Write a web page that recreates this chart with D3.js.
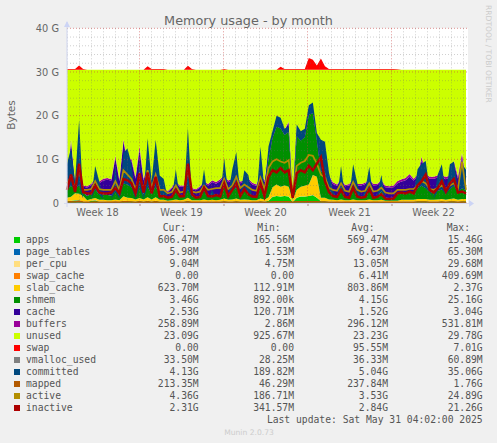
<!DOCTYPE html>
<html>
<head>
<meta charset="utf-8">
<script src="https://d3js.org/d3.v7.min.js"></script>
<style>
  html, body { margin: 0; padding: 0; background: #f0f0f0; }
  svg { display: block; }
  text { fill: #555; }
</style>
</head>
<body>
<svg width="497" height="443"></svg>
<script>
// all values in GiB, one sample every ~8 hours
var apps = [.4,.5,.6,.6,.3,.2,.5,.6,.3,.3,.2,.2,.3,.2,.5,.4,.4,.3,.5,.3,.5,.3,.5,.3,.3,.2,.2,.3,.2,.3,.5,.2,.2,.2,.3,.2,.3,.2,.3,.4,.3,.3,.4,.3,.3,.3,.2,.2,.4,.3,.5,1.4,1.6,1.5,1.6,1.5,.2,1.2,1.5,1.5,1.6,1.8,1.2,.4,.4,.3,.3,.2,.3,.2,.2,.3,.2,.2,.2,.3,.2,.2,.3,.2,.2,.2,.2,.3,.3,.3,.3,.4,.4,.4,.3,.3,.3,.4,.3,.4,.4,.3,.4,.4]
var pageTables = [.01,.01,.01,.01,.01,.01,.01,.01,.01,.01,.01,.01,.01,.01,.01,.01,.01,.01,.01,.01,.01,.01,.01,.01,.01,.01,.01,.01,.01,.01,.01,.01,.01,.01,.01,.01,.01,.01,.01,.01,.01,.01,.01,.01,.01,.01,.01,.01,.01,.01,.01,.01,.01,.01,.01,.01,.01,.01,.01,.01,.01,.01,.01,.01,.01,.01,.01,.01,.01,.01,.01,.01,.01,.01,.01,.01,.01,.01,.01,.01,.01,.01,.01,.01,.01,.01,.01,.01,.01,.01,.01,.01,.01,.01,.01,.01,.01,.01,.01,.01]
var perCpu = [.01,.01,.01,.01,.01,.01,.01,.01,.01,.01,.01,.01,.01,.01,.01,.01,.01,.01,.01,.01,.01,.01,.01,.01,.01,.01,.01,.01,.01,.01,.01,.01,.01,.01,.01,.01,.01,.01,.01,.01,.01,.01,.01,.01,.01,.01,.01,.01,.01,.01,.01,.01,.01,.01,.01,.01,.01,.01,.01,.01,.01,.01,.01,.01,.01,.01,.01,.01,.01,.01,.01,.01,.01,.01,.01,.01,.01,.01,.01,.01,.01,.01,.01,.01,.01,.01,.01,.01,.01,.01,.01,.01,.01,.01,.01,.01,.01,.01,.01,.01]
var swapCache = [.01,.01,.01,.01,.01,.01,.01,.01,.01,.01,.01,.01,.01,.01,.01,.01,.01,.01,.01,.01,.01,.01,.01,.01,.01,.01,.01,.01,.01,.01,.01,.01,.01,.01,.01,.01,.01,.01,.01,.01,.01,.01,.01,.01,.01,.01,.01,.01,.01,.01,.01,.01,.01,.01,.01,.01,.01,.01,.01,.01,.01,.01,.01,.01,.01,.01,.01,.01,.01,.01,.01,.01,.01,.01,.01,.01,.01,.01,.01,.01,.01,.01,.01,.01,.01,.01,.01,.01,.01,.01,.01,.01,.01,.01,.01,.01,.01,.01,.01,.01]
var slabCache = [.8,.9,1.6,1.5,1.3,.4,.4,.5,.4,.4,.4,.4,.5,.4,1,.8,.7,.5,.6,.5,.8,.5,.8,.4,.4,.3,.4,.5,.4,.4,.7,.4,.4,.4,.5,.4,.4,.4,.4,.6,.4,.5,.6,.4,.5,.4,.4,.4,.6,.4,.8,2.2,2.6,2.2,2.4,2.2,.5,1.8,2.2,2.4,2.6,4.6,4.8,.8,.8,.5,.4,.4,.5,.4,.4,.5,.4,.4,.4,.5,.4,.4,.4,.3,.3,.3,.3,.4,.4,.4,.4,.5,.5,.5,.4,.4,.5,.5,.4,.5,.6,.4,.5,.5]
var shmem = [2,2.5,1,2,.8,1,1.2,2,1.2,1.2,1.2,1.1,1.8,1.2,3,3,2.5,1.5,2.5,1.3,2.5,1.2,2.5,1.2,1,.8,.9,2,.9,1,2,.9,.8,.9,2,1,1.1,1,1.1,3,1.2,2,2.5,1.2,2,1.4,1,.9,2.5,1.2,9,11.3,13.3,13.4,11.6,12.6,.8,12.3,10.6,11.2,16,14.2,8.4,6,6,2.5,1,.9,3,.8,.8,3,1,.8,.9,3,.8,.8,2,.7,.6,.7,1.4,1.6,1.7,1.7,1.6,2.5,3,2.5,1.8,1.6,2,2.2,1.7,2.2,3,1.7,2.5,2]
var cache = [1.5,10.1,1.2,5.5,1.3,1.9,2,2,2.6,3.2,3.5,3.4,7.7,3.2,9.5,5,6,3.2,8.5,3,5,2.6,4.5,1.6,1.4,1.2,1.8,1.8,2.2,2,5.5,1.6,1.5,2,1.8,2.4,3,2.8,3.2,2,2.8,2.4,3,2.6,2,3,2.6,2.4,3,2.8,1.2,1.2,1.6,1.6,1,2,1,1.8,1.4,1.2,1.4,1.2,.8,6.4,5.9,2.6,2.6,2.4,1.6,2.4,2.6,1.6,2.4,2.6,2.8,1.6,2.6,2.7,2.2,2.4,2.4,2.4,2.6,2.6,2.8,3.6,2.8,2.6,5.8,2.8,3,3.2,3,2.8,3,2.8,5,3.2,7,2.4]
var buffers = [.3,.5,.3,.4,.3,.3,.3,.4,.4,.4,.4,.3,.5,.4,.5,.4,.5,.4,.9,.4,.4,.4,.3,.3,.2,.2,.3,.3,.3,.3,.3,.3,.2,.3,.3,.3,.4,.4,.4,.3,.4,.3,.3,.4,.3,.4,.4,.3,.3,.4,.2,.2,.3,.3,.2,.3,.2,.3,.2,.2,.2,.2,.2,.2,.2,.3,.4,.3,.2,.3,.3,.2,.3,.3,.3,.2,.3,.3,.3,.3,.3,.4,.5,.5,.5,.6,.4,.4,.9,.4,.5,.5,.5,.4,.5,.4,.6,.5,1,.3]
var unused = [25.47,15.97,25.77,20.47,26.47,26.67,26.07,24.97,25.57,24.97,24.77,25.07,19.67,25.07,15.97,20.87,20.37,24.57,17.47,24.97,21.27,25.47,21.87,26.67,27.17,27.77,26.87,25.57,26.47,26.47,21.47,27.07,27.37,26.67,25.57,26.17,25.27,25.67,25.07,24.17,25.37,24.97,23.67,25.57,25.37,24.97,25.87,26.27,23.67,25.37,18.77,14.17,11.07,11.47,13.67,11.87,27.77,13.07,14.57,13.97,8.67,8.47,15.07,16.67,17.17,24.27,25.77,26.27,24.87,26.37,26.17,24.87,26.17,26.17,25.87,24.87,26.17,26.07,25.27,26.57,26.67,26.47,25.47,25.07,24.77,23.87,24.97,24.07,19.87,23.87,24.47,24.47,24.17,24.17,24.57,24.17,20.87,24.37,19.07,24.87]
var swap = [.2,.2,.2,1,.2,0,0,0,0,0,0,0,0,0,0,0,0,0,0,0,.8,.2,.2,.2,.2,0,0,0,0,0,.9,.2,0,0,0,0,0,0,0,.2,0,0,0,0,0,0,0,0,0,0,0,0,0,.7,.2,.2,.2,.2,.2,.2,2.7,2.3,1,2.6,.8,.2,.2,.2,.2,.2,.2,.2,.2,.2,.2,.2,.2,.2,.2,.2,.2,.2,.1,0,0,0,0,0,0,0,0,0,0,0,0,0,0,0,0,0]
var vmallocUsed = [.04,.04,.04,.04,.04,.04,.04,.04,.04,.04,.04,.04,.04,.04,.04,.04,.04,.04,.04,.04,.04,.04,.04,.04,.04,.04,.04,.04,.04,.04,.04,.04,.04,.04,.04,.04,.04,.04,.04,.04,.04,.04,.04,.04,.04,.04,.04,.04,.04,.04,.04,.04,.04,.04,.04,.04,.04,.04,.04,.04,.04,.04,.04,.04,.04,.04,.04,.04,.04,.04,.04,.04,.04,.04,.04,.04,.04,.04,.04,.04,.04,.04,.04,.04,.04,.04,.04,.04,.04,.04,.04,.04,.04,.04,.04,.04,.04,.04,.04,.04]
var committed = [9,12.5,5,19,1,1,1,8.5,5,1,1,1,8.5,1,11.5,12.5,9,1,10,1,14.8,5,14.5,6.3,5.5,1,1,7.7,1,1,17.2,1,1,1,7.7,1,3,1,1,10.3,2,7.6,11.7,2,7.5,6.4,1,1,12.9,3,13,16.5,20,19.5,17,17.5,1,18,16.4,17,22.4,23,16,14.5,14,7,3,1,8.5,1,1,8.9,4.7,1,3,8.3,1,2,6.4,1,1,1,1,1,1,1,2,7.8,9,9.6,3,1,6.5,8.9,2,8.9,9.5,3,9,7.6]
var mapped = [.25,.3,.25,.4,.25,.2,.2,.25,.2,.2,.2,.2,.25,.2,.3,.3,.25,.2,.3,.2,.3,.2,.3,.2,.2,.2,.2,.2,.2,.2,.3,.2,.2,.2,.2,.2,.2,.2,.2,.25,.2,.2,.25,.2,.2,.2,.2,.2,.25,.2,.2,.3,.3,.3,.3,.3,.2,.3,.3,.3,.3,.3,.3,.25,.25,.2,.2,.2,.2,.2,.2,.2,.2,.2,.2,.2,.2,.2,.2,.2,.2,.2,.2,.2,.2,.2,.2,.25,.25,.25,.2,.2,.2,.25,.2,.25,.25,.2,.25,.2]
var active = [4.5,6,3.5,8,3,3,3.2,5,3.2,3,3,3,5,3,7.5,6.5,5.5,3.2,6.5,3,7.5,3.5,6.5,3,3,2.2,2.5,4,2.4,2.6,8,2.6,2.4,2.6,4,3,3.2,3.4,3.4,5.5,3.2,4,6,3.4,4.2,3.6,3,2.8,5.8,3.2,8,9.5,10,9.5,9.2,9.8,2.5,8.5,9.2,9.6,11,10.8,9,6.5,5.8,3.5,3,2.8,4.5,2.8,2.6,4.8,3,2.6,2.8,4.5,2.6,2.8,3.5,2.4,2.2,2.2,3,3,3,3.2,3.2,4,5,4.5,3.2,3,3.4,4,3.2,4,4.5,3.2,9.5,3]
var inactive = [3,6.5,2.5,9,2.5,2.2,2.2,4,2.4,2.2,2.2,2.4,3.5,2.2,5.5,5.2,4.5,2.2,6.8,2.4,7,2.2,6,1.5,1.6,1.2,1.4,3,1.5,1.6,9,2,1.2,1.4,3.5,1.6,1.5,1.8,1.5,4.5,1.6,3,4.5,1.6,3.2,2,1.5,1.4,4.5,1.6,6,7.5,7,8,7,7.5,1.2,6.8,7.5,7,8.5,7.5,9,10.5,5,2.5,1.6,1.4,3,1.4,1.2,3.5,1.5,1.2,1.4,3.2,1.2,1.4,2,1,.9,1,2.2,2.4,2.2,2.6,2.2,4,5,6.5,3,2.4,3.4,5,2.6,4.5,5.5,2.4,2.6,2.2]

var names = ["apps", "page_tables", "per_cpu", "swap_cache", "slab_cache", "shmem", "cache", "buffers", "unused", "swap", "vmalloc_used", "committed", "mapped", "active", "inactive"]
var colors = ["#00CC00", "#0066B3", "#FFDE80", "#FF8000", "#FFCC00", "#008F00", "#330099", "#990099", "#CCFF00", "#FF0000", "#808080", "#00487D", "#B35A00", "#B38F00", "#AD0000"]
var curVals = ["606.47M", "5.98M", "9.04M", "0.00", "623.70M", "3.46G", "2.53G", "258.89M", "23.09G", "0.00", "33.50M", "4.13G", "213.35M", "4.36G", "2.31G"]
var minVals = ["165.56M", "1.53M", "4.75M", "0.00", "112.91M", "892.00k", "120.71M", "2.86M", "925.67M", "0.00", "28.25M", "189.82M", "46.29M", "186.71M", "341.57M"]
var avgVals = ["569.47M", "6.63M", "13.05M", "6.41M", "803.86M", "4.15G", "1.52G", "296.12M", "23.23G", "95.55M", "36.33M", "5.04G", "237.84M", "3.53G", "2.84G"]
var maxVals = ["15.46G", "65.30M", "29.68M", "409.69M", "2.37G", "25.16G", "3.04G", "531.81M", "29.78G", "7.01G", "60.89M", "35.06G", "1.76G", "24.89G", "21.26G"]
var yTicks = [0, 10, 20, 30, 40]
var weekStarts = ["2025-05-05", "2025-05-12", "2025-05-19", "2025-05-26"]
var weekMids = ["2025-05-01T12:00Z", "2025-05-08T12:00Z", "2025-05-15T12:00Z", "2025-05-22T12:00Z", "2025-05-29T12:00Z"]
var weekLabels = ["Week 18", "Week 19", "Week 20", "Week 21", "Week 22"]

var svg = d3.select('svg')
var mono = "'DejaVu Sans Mono', monospace"
var sans = "'DejaVu Sans', sans-serif"

var t0 = new Date("2025-04-28T23:00Z"), t1 = new Date("2025-06-01T05:00Z")
var x = d3.scaleUtc().domain([t0, t1]).range([67, 466])
var y = d3.scaleLinear().domain([0, 40]).range([203, 28.3])
var timeOf = d3.scaleLinear().domain([0, apps.length - 1]).range([t0, t1])

// plot background
svg.append('rect').attr('x', x.range()[0]).attr('y', y(40))
  .attr('width', x.range()[1] - x.range()[0] + 2).attr('height', y(0) - y(40)).attr('fill', '#fff')

// stacked areas
var stackArrays = [apps, pageTables, perCpu, swapCache, slabCache, shmem, cache, buffers, unused, swap]
var rows = apps.map(function(d, i) {
  var row = {i: i}
  stackArrays.forEach(function(arr, k) { row[names[k]] = arr[i] })
  return row
})
var layers = d3.stack().keys(names.slice(0, stackArrays.length))(rows)
var area = d3.area()
  .x(function(d) { return x(timeOf(d.data.i)) })
  .y0(function(d) { return y(d[0]) })
  .y1(function(d) { return y(d[1]) })

svg.append('g').selectAll('path').data(layers).join('path')
  .attr('d', area)
  .attr('fill', function(d, k) { return colors[k] })

// committed spikes read as solid columns, so fill them down to the top of shmem
var shmemTop = layers[5]
var committedArea = d3.area()
  .x(function(d, i) { return x(timeOf(i)) })
  .y0(function(d, i) { return y(Math.min(d, shmemTop[i][1])) })
  .y1(function(d) { return y(d) })
svg.append('path')
  .attr('d', committedArea(committed))
  .attr('fill', colors[11])

// lines over the stack
var lineArrays = [vmallocUsed, mapped, active, inactive]
var lineColors = [colors[10], colors[12], colors[13], colors[14]]
var lineWidths = [1, 1.4, 1.7, 2.5]
var line = d3.line()
  .x(function(d, i) { return x(timeOf(i)) })
  .y(function(d) { return y(d) })
lineArrays.forEach(function(arr, k) {
  svg.append('path')
    .attr('d', line(arr))
    .attr('fill', 'none')
    .attr('stroke', lineColors[k])
    .attr('stroke-width', lineWidths[k])
})

// grid goes on top, dotted like rrdtool
var minorY = d3.range(0, 41, 2)
var minorX = d3.range(0, 34).map(function(d) { return new Date(Date.UTC(2025, 3, 29 + d)) })
var grid = svg.append('g').attr('fill', 'none')
minorY.forEach(function(v) {
  var major = yTicks.indexOf(v) >= 0
  grid.append('line').attr('x1', 67).attr('x2', 468).attr('y1', y(v)).attr('y2', y(v))
    .attr('stroke', major ? 'rgba(200,60,60,.55)' : 'rgba(110,110,110,.32)')
    .attr('stroke-dasharray', '1,2')
})
minorX.forEach(function(d) {
  var major = weekStarts.indexOf(d3.utcFormat('%Y-%m-%d')(d)) >= 0
  grid.append('line').attr('x1', x(d)).attr('x2', x(d)).attr('y1', y(40)).attr('y2', y(0))
    .attr('stroke', major ? 'rgba(200,60,60,.55)' : 'rgba(110,110,110,.32)')
    .attr('stroke-dasharray', '1,2')
})

// axes
var yAxis = d3.axisLeft(y).tickValues(yTicks).tickSize(0).tickPadding(8)
  .tickFormat(function(d) { return d ? d + ' G' : '0' })
var yG = svg.append('g').attr('transform', 'translate(67,0)').call(yAxis)
yG.select('.domain').remove()
yG.selectAll('text').attr('font-family', sans).attr('font-size', 9.8).style('fill', '#666')

var xAxis = d3.axisBottom(x).tickValues(weekStarts.map(function(d) { return new Date(d) }))
  .tickSize(3).tickFormat('')
var xG = svg.append('g').attr('transform', 'translate(0,203)').call(xAxis)
xG.select('.domain').remove()
xG.selectAll('line').attr('stroke', '#a88')

svg.append('g').selectAll('text').data(weekLabels).join('text')
  .attr('x', function(d, i) { return x(new Date(weekMids[i])) })
  .attr('y', 216)
  .attr('text-anchor', 'middle')
  .attr('font-family', sans).attr('font-size', 9.8)
  .style('fill', '#666')
  .text(function(d) { return d })

// axis lines and arrows
svg.append('line').attr('x1', 67).attr('x2', 67).attr('y1', 22).attr('y2', 207)
  .attr('stroke', '#d5daf0').attr('stroke-width', 1.2)
svg.append('line').attr('x1', 64).attr('x2', 470).attr('y1', 203.5).attr('y2', 203.5)
  .attr('stroke', '#d5daf0').attr('stroke-width', 1)
svg.append('polygon').attr('points', '64,27 70,27 67,21').attr('fill', '#ccd4f5')
svg.append('polygon').attr('points', '469,200 469,207 474,203.5').attr('fill', '#ccd4f5')

// titles
svg.append('text').attr('x', 248.5).attr('y', 24.5).attr('text-anchor', 'middle')
  .attr('font-family', sans).attr('font-size', 12.8).style('fill', '#666')
  .text('Memory usage - by month')
svg.append('text').attr('transform', 'translate(15,115) rotate(-90)').attr('text-anchor', 'middle')
  .attr('font-family', sans).attr('font-size', 10.6).style('fill', '#666')
  .text('Bytes')
svg.append('text').attr('transform', 'translate(486,5) rotate(90)')
  .attr('font-family', sans).attr('font-size', 7.6).style('fill', '#ccc')
  .text('RRDTOOL / TOBI OETIKER')

// legend
var columns = [[curVals, 198.7], [minVals, 294], [avgVals, 388], [maxVals, 482.7]]
var headers = [['Cur:', 186], ['Min:', 280.7], ['Avg:', 374.7], ['Max:', 470]]
var rowY = d3.scaleLinear().domain([0, 14]).range([243, 411])
var legend = svg.append('g').attr('font-family', mono).attr('font-size', 9.7)

headers.forEach(function(h) {
  legend.append('text').attr('x', h[1]).attr('y', 231).attr('text-anchor', 'end').text(h[0])
})
legend.selectAll('rect').data(names).join('rect')
  .attr('x', 14).attr('y', function(d, i) { return rowY(i) - 6 })
  .attr('width', 6).attr('height', 6)
  .attr('fill', function(d, i) { return colors[i] })
legend.selectAll('text.name').data(names).join('text').attr('class', 'name')
  .attr('x', 26).attr('y', function(d, i) { return rowY(i) })
  .text(function(d) { return d })
columns.forEach(function(col) {
  legend.append('g').selectAll('text').data(col[0]).join('text')
    .attr('x', col[1]).attr('y', function(d, i) { return rowY(i) })
    .attr('text-anchor', 'end')
    .text(function(d) { return d })
})
legend.append('text').attr('x', 482.7).attr('y', 423).attr('text-anchor', 'end')
  .text('Last update: Sat May 31 04:02:00 2025')

svg.append('text').attr('x', 249).attr('y', 435).attr('text-anchor', 'middle')
  .attr('font-family', sans).attr('font-size', 7.6).style('fill', '#ccc')
  .text('Munin 2.0.73')
</script>
</body>
</html>
